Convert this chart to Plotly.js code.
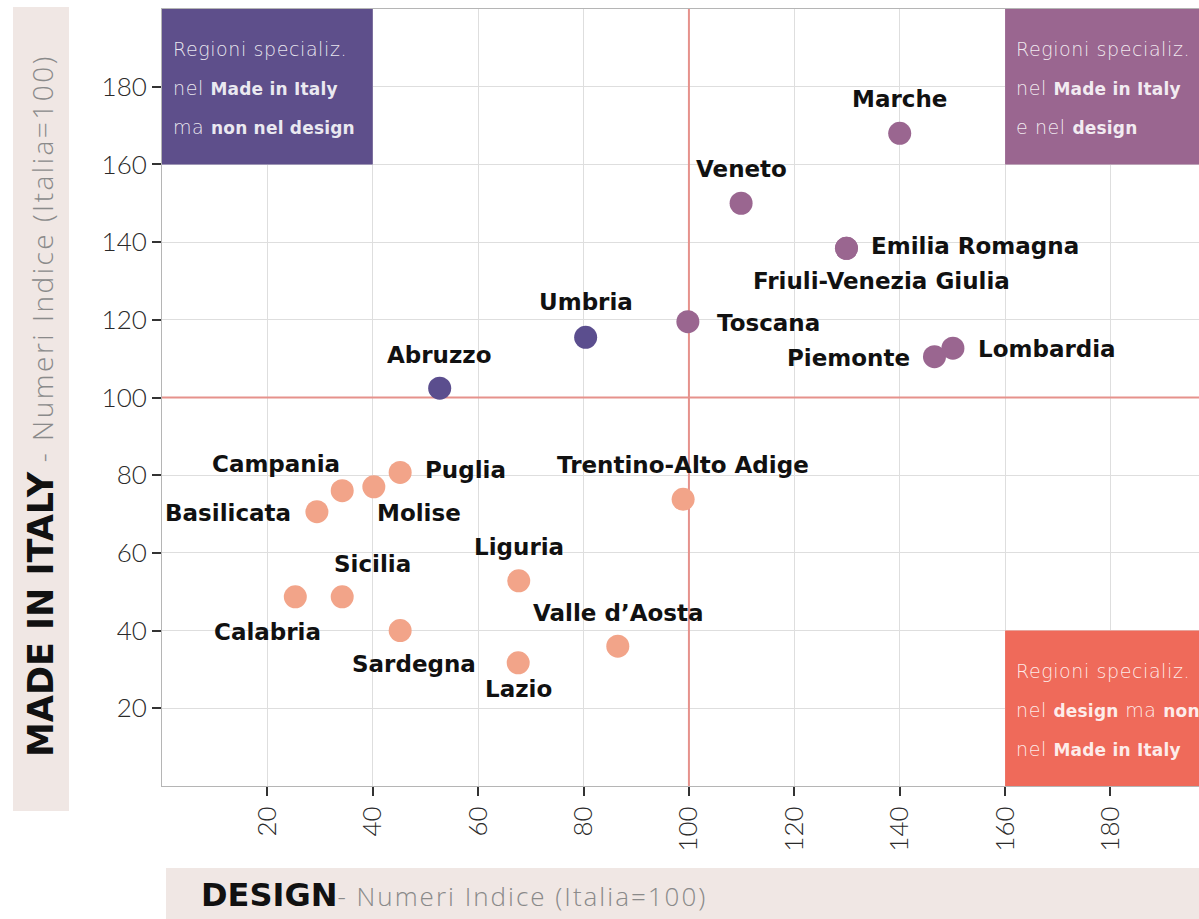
<!DOCTYPE html>
<html>
<head>
<meta charset="utf-8">
<script src="https://cdn.plot.ly/plotly-3.0.1.min.js"></script>
<style>html,body{margin:0;padding:0;background:#fff}#chart{width:1199px;height:919px}</style>
</head>
<body>
<div id="chart"></div>
<script>
// ---- data ----
const regions = ["Marche","Veneto","Emilia Romagna","Friuli-Venezia Giulia","Toscana","Piemonte","Lombardia",
  "Umbria","Abruzzo","Trentino-Alto Adige","Liguria","Valle d\u2019Aosta","Lazio","Puglia","Molise",
  "Campania","Basilicata","Sicilia","Calabria","Sardegna"];
const design = [140.0,109.9,129.9,129.9,99.8,146.6,150.1,80.4,52.7,98.9,67.7,86.5,67.6,45.2,40.2,34.2,29.4,34.2,25.3,45.2];
const madeInItaly = [168.0,150.0,138.4,138.4,119.5,110.5,112.7,115.5,102.4,73.8,52.8,36.0,31.7,80.7,77.0,76.0,70.6,48.7,48.7,40.0];
// quadrant group of each region: "both" = Made in Italy + design, "mii" = only Made in Italy, "none" = neither
const group = ["both","both","both","both","both","both","both","mii","mii","none","none","none","none","none","none","none","none","none","none","none"];
const xTicks = [20,40,60,80,100,120,140,160,180];
const yTicks = [20,40,60,80,100,120,140,160,180];
// each line: list of [text, bold?]
const quadrantText = {
  tl: [[["Regioni specializ.",0]], [["nel ",0],["Made in Italy",1]], [["ma ",0],["non nel design",1]]],
  tr: [[["Regioni specializ.",0]], [["nel ",0],["Made in Italy",1]], [["e nel ",0],["design",1]]],
  br: [[["Regioni specializ.",0]], [["nel ",0],["design",1],[" ma ",0],["non",1]], [["nel ",0],["Made in Italy",1]]]
};
const yTitleBold = "MADE IN ITALY";
const xTitleBold = "DESIGN";
const axisSub = "Numeri Indice (Italia=100)";

// ---- styles ----
const W = 1199, H = 919, ML = 162, MR = 0, MT = 9, MB = 133;
const PW = W - ML - MR, PH = H - MT - MB;
const XR = [0, 196.8], YR = [0, 200];
const colTL = "#5e4f8b", colTR = "#9a6690", colBR = "#ef6a5a";
const groupColor = {both:"#9a6690", mii:"#5b4e8e", none:"#f2a489"};
const refColor = "#e6928c";
const band = "#f0e7e4";

// label placement: [xanchor, dx(px), dy(px, down positive)]
const labelPlace = {
  "Marche":["center",0,-34], "Veneto":["center",0,-34], "Emilia Romagna":["left",23,-2],
  "Friuli-Venezia Giulia":["center",35,33], "Toscana":["left",27,1], "Piemonte":["right",-22,1],
  "Lombardia":["left",23,1], "Umbria":["center",0,-35], "Abruzzo":["center",0,-33],
  "Trentino-Alto Adige":["center",0,-34], "Liguria":["center",0,-34], "Valle d\u2019Aosta":["center",0,-33],
  "Lazio":["center",0,26], "Puglia":["left",23,-2], "Molise":["center",45,26],
  "Campania":["center",-66,-27], "Basilicata":["right",-24,1], "Sicilia":["center",30,-33],
  "Calabria":["center",-28,35], "Sardegna":["center",14,33]
};

const labelFont = {family:"DejaVu Sans", size:23, color:"#111", weight:700};

const annotations = [];
regions.forEach((r,i) => {
  const p = labelPlace[r] || ["center",0,-34];
  annotations.push({
    x: design[i], y: madeInItaly[i], xref:"x", yref:"y", text:"<b>"+r+"</b>", showarrow:false,
    xanchor:p[0], yanchor:"middle", xshift:p[1], yshift:-p[2], font:labelFont
  });
});

function boxLine(parts) {
  return parts.map(([t,b]) => b
    ? "<span style='font-weight:bold;font-size:17px;letter-spacing:0.2px'>"+t+"</span>"
    : "<span style='font-size:19px;letter-spacing:0.6px'>"+t+"</span>").join("");
}

// quadrant boxes
const boxes = [
  {x0:0, x1:40, y0:160, y1:200, color:colTL, lines:quadrantText.tl},
  {x0:160, x1:XR[1], y0:160, y1:200, color:colTR, lines:quadrantText.tr},
  {x0:160, x1:XR[1], y0:0, y1:40, color:colBR, lines:quadrantText.br}
];
const shapes = [];
boxes.forEach(b => {
  shapes.push({type:"rect", xref:"x", yref:"y", x0:b.x0, x1:b.x1, y0:b.y0, y1:b.y1,
    fillcolor:b.color, line:{width:0}, layer:"between"});
  b.lines.forEach((parts,j) => {
    annotations.push({x:b.x0, y:b.y1, xref:"x", yref:"y",
      text:boxLine(parts), showarrow:false,
      xanchor:"left", yanchor:"middle", xshift:9, yshift:-(40 + 39*j),
      font:{family:"DejaVu Sans", size:19, color:"rgba(255,255,255,0.88)", weight:300}});
  });
});
// reference lines
shapes.push({type:"line", xref:"x", yref:"y", x0:100, x1:100, y0:YR[0], y1:YR[1], line:{color:refColor, width:2}, layer:"between"});
shapes.push({type:"line", xref:"x", yref:"y", x0:XR[0], x1:XR[1], y0:100, y1:100, line:{color:refColor, width:2}, layer:"between"});

// title bands (paper coords from pixels)
const px2x = p => (p - ML) / PW;
const py2y = p => (H - MB - p) / PH;
shapes.push({type:"rect", xref:"paper", yref:"paper", x0:px2x(13), x1:px2x(69), y0:py2y(811), y1:py2y(7), fillcolor:band, line:{width:0}, layer:"below"});
shapes.push({type:"rect", xref:"paper", yref:"paper", x0:px2x(166), x1:px2x(1199), y0:py2y(919), y1:py2y(868), fillcolor:band, line:{width:0}, layer:"below"});

annotations.push({xref:"paper", yref:"paper", x:px2x(41), y:py2y(406), textangle:-90, showarrow:false,
  xanchor:"center", yanchor:"middle",
  text:"<span style='font-family:DejaVu Sans;font-weight:bold;font-size:35px;color:#111'>"+yTitleBold+"</span><span style='font-family:Open Sans;font-weight:300;font-size:28px;color:#8a8a8a;letter-spacing:2.5px'> - "+axisSub+"</span>",
  font:{family:"Open Sans", size:28, color:"#8a8a8a"}});
annotations.push({xref:"paper", yref:"paper", x:px2x(199), y:py2y(895), showarrow:false,
  xanchor:"left", yanchor:"middle",
  text:"<span style='font-family:DejaVu Sans;font-weight:bold;font-size:32px;color:#111'>"+xTitleBold+"</span><span style='font-family:Open Sans;font-weight:300;font-size:26px;color:#8a8a8a;letter-spacing:2px'>- "+axisSub+"</span>",
  font:{family:"Open Sans", size:26, color:"#8a8a8a"}});

const trace = {
  type:"scatter", mode:"markers", x:design, y:madeInItaly, text:regions, hoverinfo:"text",
  marker:{size:23, color:group.map(g => groupColor[g]), line:{width:0}}
};

const axisCommon = {
  showgrid:true, gridcolor:"#dedede", gridwidth:1, zeroline:false,
  showline:true, linecolor:"#b5b5b5", linewidth:1, mirror:true,
  ticks:"outside", ticklen:9, tickwidth:2, tickcolor:"#333",
  tickfont:{family:"Lato", size:26, color:"#2a2a2a", weight:300}
};

const layout = {
  width:W, height:H, margin:{l:ML, r:MR, t:MT, b:MB, pad:0},
  paper_bgcolor:"#fff", plot_bgcolor:"#fff", showlegend:false,
  xaxis:Object.assign({}, axisCommon, {range:XR, tickvals:xTicks, ticktext:xTicks.map(String), tickangle:-90}),
  yaxis:Object.assign({}, axisCommon, {range:YR, tickvals:yTicks, ticktext:yTicks.map(String)}),
  shapes:shapes, annotations:annotations
};

Plotly.newPlot("chart", [trace], layout, {displayModeBar:false, staticPlot:true});
</script>
</body>
</html>
